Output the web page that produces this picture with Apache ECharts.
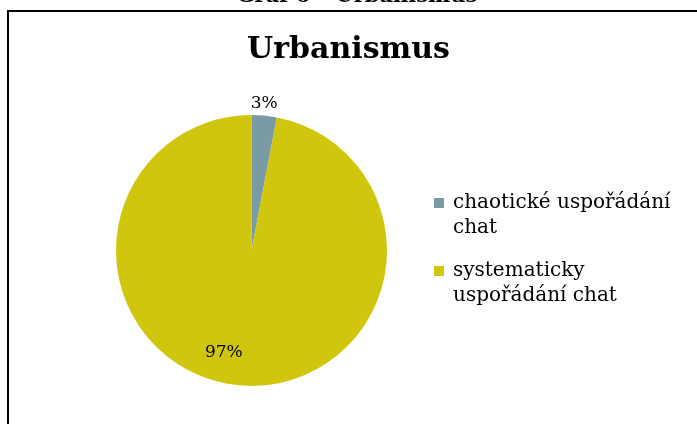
<!DOCTYPE html>
<html><head><meta charset="utf-8">
<script src="https://cdn.jsdelivr.net/npm/echarts@6/dist/echarts.min.js"></script>
<style>html,body{margin:0;padding:0;background:#fff;}#c{width:697px;height:424px;}</style>
</head><body><div id="c"></div>
<script>
const categories = ['chaotické uspořádání chat', 'systematicky uspořádání chat'];
const legendLabels = ['chaotické uspořádání\nchat', 'systematicky\nuspořádání chat'];
const values = [3, 97];
const colors = ['#7a9ba5', '#d0c60d'];
const pageCaption = 'Graf 6 – Urbanismus';
const chartTitle = 'Urbanismus';
const labelOffsets = [[6, -76], [-21, 32]];

const FONT = 'DejaVu Serif';
const chart = echarts.init(document.getElementById('c'), null, {renderer: 'canvas'});
chart.setOption({
  animation: false,
  backgroundColor: '#fff',
  title: {
    text: chartTitle, left: 'center', top: 30,
    textStyle: {fontFamily: FONT, fontWeight: 'bold', fontSize: 30, color: '#000'}
  },
  graphic: [
    {type: 'rect', shape: {x: 8, y: 11, width: 720, height: 440}, style: {fill: 'none', stroke: '#000', lineWidth: 2}},
    {type: 'text', x: 357, y: 7, style: {text: pageCaption, textAlign: 'center', textVerticalAlign: 'bottom', fontFamily: FONT, fontWeight: 'bold', fontSize: 21, fill: '#000'}}
  ],
  legend: {
    orient: 'vertical', left: 434, top: 165.5, padding: 0,
    itemWidth: 10, itemHeight: 10, itemGap: -7,
    icon: 'rect',
    formatter: name => '\n' + legendLabels[categories.indexOf(name)],
    textStyle: {fontFamily: FONT, fontSize: 20, color: '#000', lineHeight: 25, padding: [0, 0, 0, 4]}
  },
  series: [{
    type: 'pie', center: [251.5, 250.5], radius: 135.5,
    startAngle: 90, clockwise: true,
    data: categories.map((n, i) => ({
      name: n, value: values[i], itemStyle: {color: colors[i]},
      label: {offset: labelOffsets[i]}
    })),
    label: {
      position: 'inside', formatter: '{c}%',
      fontFamily: FONT, fontSize: 17, color: '#000'
    },
    labelLine: {show: false},
    emphasis: {disabled: true}
  }]
});
</script></body></html>
